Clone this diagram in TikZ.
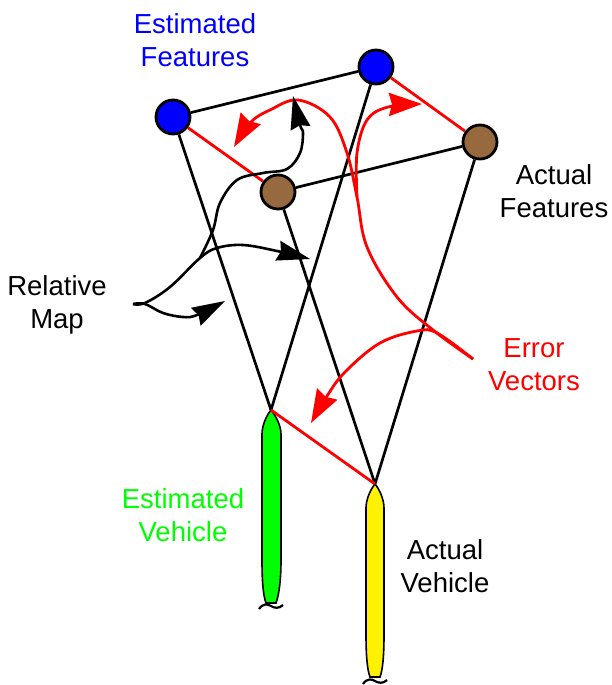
\documentclass[tikz,border=0pt]{standalone}
\usepackage{fontspec}
\setmainfont{Liberation Sans}
\usetikzlibrary{arrows.meta}
\definecolor{brownf}{RGB}{150,105,62}
\definecolor{lime}{RGB}{0,255,0}
\tikzset{
  feat/.style={circle,draw=black,line width=2.8pt,minimum size=34pt,inner sep=0pt},
  est/.style={feat,fill=blue},
  act/.style={feat,fill=brownf},
  link/.style={black,line width=2.7pt},
  err/.style={red,line width=2.8pt},
  rtip/.style={err,-{Stealth[length=33pt,width=23pt,inset=3pt]}},
  btip/.style={black,line width=2.6pt,-{Stealth[length=33pt,width=20pt,inset=3pt]}},
  lab/.style={align=center,font=\fontsize{27.5pt}{33pt}\selectfont,inner sep=0pt},
  veh/.style={draw=black,line width=1.6pt},
  tail/.style={black,line width=2.2pt}
}
\begin{document}
\begin{tikzpicture}[x=1pt,y=-1pt]
\useasboundingbox (0,0) rectangle (611,685);
% vehicles
\coordinate (v1) at (271,410);
\coordinate (v2) at (375,484);
\path[veh,fill=lime] (v1) .. controls (266,416) and (262,426) .. (262,434) -- (262,560) .. controls (262,580) and (263,595) .. (266,603) -- (276,603) .. controls (279,595) and (281,580) .. (281,560) -- (281,434) .. controls (281,426) and (276,416) .. (v1) -- cycle;
\path[veh,fill=yellow] (v2) .. controls (370,490) and (366,500) .. (366,508) -- (366,634) .. controls (366,654) and (367,669) .. (370,677) -- (380,677) .. controls (383,669) and (384,654) .. (384,634) -- (384,508) .. controls (384,500) and (380,490) .. (v2) -- cycle;
\draw[tail] (259,609) .. controls (263,603) and (268,604) .. (271,606) .. controls (274,608) and (279,609) .. (283,605);
\draw[tail] (363,684) .. controls (367,678) and (372,679) .. (375,681) .. controls (378,683) and (383,684) .. (387,680);
% feature nodes
\node[est] (e1) at (173,117) {};
\node[est] (e2) at (376,67) {};
\node[act] (a1) at (278,192) {};
\node[act] (a2) at (480,142) {};
% links
\draw[link] (e1) -- (e2);
\draw[link] (a1) -- (a2);
\draw[link] (e1) -- (v1);
\draw[link] (e2) -- (v1);
\draw[link] (a1) -- (v2);
\draw[link] (a2) -- (v2);
\draw[err] (e1) -- (a1);
\draw[err] (e2) -- (a2);
\draw[err] (v1) -- (v2);
% red arrows
\coordinate (s1) at (473,359);
\draw[rtip] plot[smooth,tension=.6] coordinates {(s1) (433,330) (397,297) (367,247) (357,197) (347,153) (330,117) (298,100) (270,110) (251,122) (234,147)};
\draw[rtip] plot[smooth,tension=.6] coordinates {(357,197) (357,153) (367,120) (388,107) (422,104)};
\draw[rtip] plot[smooth,tension=.6] coordinates {(s1) (437,333) (417,331) (380,343) (345,372) (327,396) (311,423)};
% black arrows
\coordinate (m) at (133,304);
\draw[btip] plot[smooth,tension=.6] coordinates {(m) (145,303) (170,287) (200,258) (217,248) (243,245) (277,251) (310,259)};
\draw[btip] plot[smooth,tension=.6] coordinates {(m) (145,304) (163,313) (183,317) (197,315) (225,301)};
\draw[btip] plot[smooth,tension=.6] coordinates {(200,258) (213,230) (220,203) (237,180) (263,173) (287,169) (300,153) (303,133) (300,125) (293,96)};
% labels
\node[lab,text=blue] (t1) at (195,40) {Estimated\\Features};
\node[lab] (t2) at (554,191) {Actual\\Features};
\node[lab] (t3) at (57,305) {Relative\\Map};
\node[lab,text=red] (t4) at (534,365) {Error\\Vectors};
\node[lab,text=lime] (t5) at (183,515) {Estimated\\Vehicle};
\node[lab] (t6) at (445,566) {Actual\\Vehicle};
\end{tikzpicture}
\end{document}
